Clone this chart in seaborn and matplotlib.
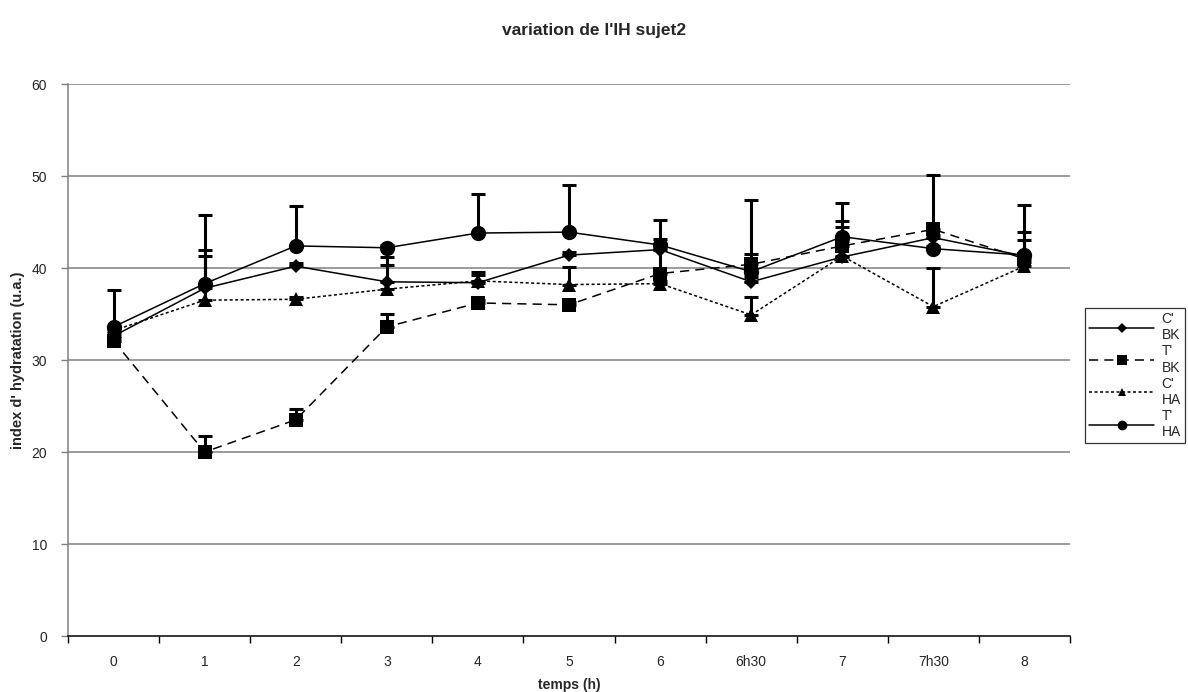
import numpy as np
import pandas as pd
import matplotlib
matplotlib.use("Agg")
import matplotlib.pyplot as plt
from matplotlib.lines import Line2D
import seaborn as sns

# Time points (categorical axis)
temps = ["0", "1", "2", "3", "4", "5", "6", "6h30", "7", "7h30", "8"]

# Hydration index per condition
c_bk = [32.6, 37.8, 40.2, 38.5, 38.4, 41.4, 42.0, 38.5, 41.2, 43.3, 41.3]
t_bk = [32.1, 20.0, 23.5, 33.6, 36.2, 36.0, 39.4, 40.4, 42.4, 44.2, 41.0]
c_ha = [33.2, 36.5, 36.6, 37.7, 38.6, 38.2, 38.3, 34.9, 41.3, 35.8, 40.2]
t_ha = [33.6, 38.3, 42.4, 42.2, 43.8, 43.9, 42.5, 39.6, 43.4, 42.1, 41.4]

# Upper error bars (standard deviation)
err_c_bk = [0.3, 4.2, 0.3, 2.7, 1.2, 0.3, 0.3, 0.5, 3.3, 0.3, 2.6]
err_t_bk = [0.3, 1.7, 1.2, 1.4, 0.3, 0.3, 3.8, 1.1, 0.5, 5.9, 2.0]
err_c_ha = [0.3, 4.8, 0.3, 2.6, 0.6, 1.9, 0.3, 1.9, 3.8, 4.2, 0.5]
err_t_ha = [4.0, 7.5, 4.3, 0.3, 4.2, 5.1, 2.7, 7.8, 3.7, 0.3, 5.4]

series = ["C' BK", "T' BK", "C' HA", "T' HA"]
values = [c_bk, t_bk, c_ha, t_ha]
errors = [err_c_bk, err_t_bk, err_c_ha, err_t_ha]

pos = np.arange(len(temps))
df = pd.concat(
    [pd.DataFrame({"pos": pos, "temps": temps, "val": v, "err": e, "serie": s})
     for s, v, e in zip(series, values, errors)],
    ignore_index=True,
)

sns.set_style("white")
plt.rcParams["font.family"] = ["Liberation Sans", "DejaVu Sans"]

fig = plt.figure(figsize=(11.88, 6.92), dpi=100)
ax = fig.add_axes([68 / 1188, 56 / 692, (1070 - 68) / 1188, (636 - 84) / 692])

markers = {"C' BK": "D", "T' BK": "s", "C' HA": "^", "T' HA": "o"}
msizes = {"C' BK": 7, "T' BK": 10, "C' HA": 10, "T' HA": 11}
dashes = {"C' BK": "", "T' BK": (6, 4), "C' HA": (2, 1.6), "T' HA": ""}

# grid lines
for yv in range(10, 61, 10):
    ax.axhline(yv, color="#808080", lw=1.1, zorder=0)

for s in series:
    sub = df[df["serie"] == s]
    sns.lineplot(data=sub, x="pos", y="val", ax=ax, color="black", lw=1.1,
                 marker=markers[s], markersize=msizes[s], markeredgecolor="black",
                 markeredgewidth=0, dashes=False, legend=False, zorder=3,
                 linestyle="-" if dashes[s] == "" else (0, dashes[s]))
    ax.errorbar(sub["pos"], sub["val"], yerr=[np.zeros(len(sub)), sub["err"]],
                fmt="none", ecolor="black", elinewidth=2.2, capsize=5,
                capthick=2.2, zorder=2)

ax.set_xlim(-0.5, len(temps) - 0.5)
ax.set_ylim(0, 60)
ax.set_yticks(range(0, 61, 10))
ax.set_xticks(pos)
ax.set_xticklabels(temps)
ax.set_xticks(np.arange(-0.5, len(temps), 1.0), minor=True)
ax.tick_params(axis="x", which="major", length=0, pad=14, labelsize=10)
ax.tick_params(axis="x", which="minor", length=5, width=1, color="black",
               direction="out", bottom=True)
ax.tick_params(axis="y", length=5, width=1, color="#808080", direction="out",
               left=True, labelsize=10, pad=10)

for side in ["top", "right"]:
    ax.spines[side].set_visible(False)
ax.spines["left"].set_color("#808080")
ax.spines["left"].set_linewidth(1.1)
ax.spines["bottom"].set_color("black")
ax.spines["bottom"].set_linewidth(1.1)

ax.set_xlabel("temps (h)", fontsize=10, fontweight="bold")
ax.xaxis.set_label_coords(0.5, -(678 - 636) / 552)
ax.set_ylabel("index d' hydratation (u.a.)", fontsize=10.5, fontweight="bold")
ax.yaxis.set_label_coords(-(68 - 25) / 1002, 0.5)
fig.text(0.5, 1 - 30 / 692, "variation de l'IH sujet2", ha="center",
         va="center", fontsize=12.5, fontweight="bold")

leg_sizes = {"C' BK": 5, "T' BK": 6.5, "C' HA": 5.5, "T' HA": 7}
handles = [
    Line2D([], [], color="black", lw=1.1, marker=markers[s],
           markersize=leg_sizes[s], markeredgewidth=0,
           linestyle="-" if dashes[s] == "" else (0, dashes[s]))
    for s in series
]
labels = [s.replace(" ", "\n") for s in series]
leg = fig.legend(handles, labels, loc="upper left",
                 bbox_to_anchor=(1085 / 1188, 1 - 308 / 692), fontsize=10,
                 handlelength=4.7, handletextpad=0.5, labelspacing=0.15,
                 borderpad=0.3, borderaxespad=0, frameon=True,
                 fancybox=False)
leg.get_frame().set_edgecolor("black")
leg.get_frame().set_linewidth(0.9)

fig.savefig("out.png", dpi=100)
